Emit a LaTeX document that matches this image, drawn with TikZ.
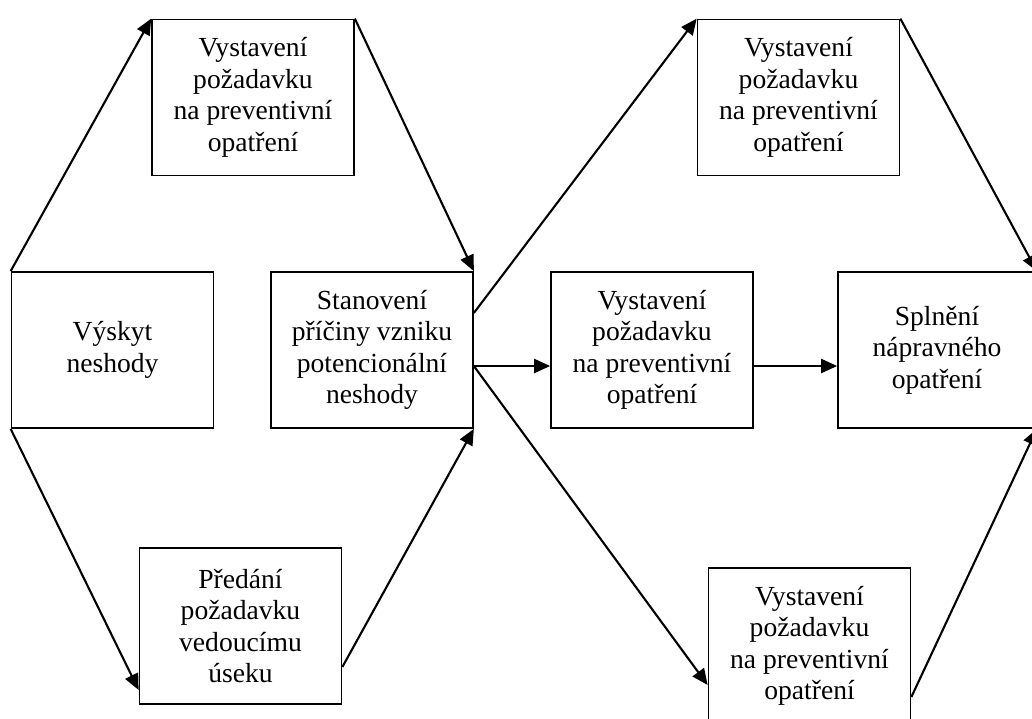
\documentclass[tikz,border=0pt]{standalone}
\usepackage{fontspec}
\setmainfont{Liberation Serif}
\usetikzlibrary{arrows.meta}
\begin{document}
\begin{tikzpicture}[x=1pt,y=-1pt,
  box/.style={draw, line width=1.7pt, fill=white, minimum width=202pt, minimum height=156pt,
    inner sep=0pt, align=center, font=\fontsize{27.6}{31.5}\selectfont},
  conn/.style={line width=2.1pt, -{Triangle[length=16pt,width=14pt]}}]
\path[use as bounding box, clip] (0,0) rectangle (1032,718);
\fill[white] (0,0) rectangle (1032,718);

% process boxes
\node[box] (tl) at (253,97.5)  {Vystavení\\požadavku\\na preventivní\\opatření};
\node[box] (vy) at (112.5,350) {Výskyt\\neshody};
\node[box] (st) at (372,350)   {Stanovení\\příčiny vzniku\\potencionální\\neshody};
\node[box] (bl) at (240.5,626) {Předání\\požadavku\\vedoucímu\\úseku};
\node[box] (tr) at (798.5,97.5){Vystavení\\požadavku\\na preventivní\\opatření};
\node[box] (md) at (652,350)   {Vystavení\\požadavku\\na preventivní\\opatření};
\node[box, minimum width=198pt] (sp) at (937,350) {Splnění\\nápravného\\opatření};
\node[box] (br) at (809.5,646) {Vystavení\\požadavku\\na preventivní\\opatření};

% flow connectors
\draw[conn] (vy.north west) -- (tl.north west);
\draw[conn] (tl.north east) -- (st.north east);
\draw[conn] (vy.south west) -- ([yshift=-64pt]bl.west);
\draw[conn] ([yshift=-41pt]bl.east) -- (st.south east);
\draw[conn] ([yshift=37pt]st.east) -- (tr.north west);
\draw[conn] ([yshift=-16pt]st.east) -- ([yshift=-16pt]md.west);
\draw[conn] ([yshift=-16pt]st.east) -- ([yshift=-39pt]br.west);
\draw[conn] ([yshift=-16pt]md.east) -- ([yshift=-16pt]sp.west);
\draw[conn] (tr.north east) -- (sp.north east);
\draw[conn] ([yshift=-51pt]br.east) -- (sp.south east);
\end{tikzpicture}
\end{document}
